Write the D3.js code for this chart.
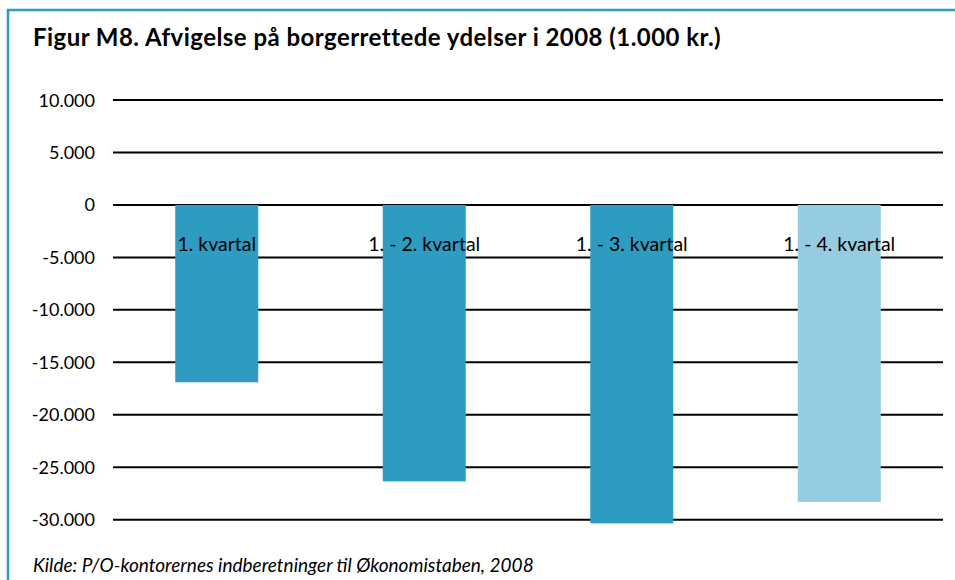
<!DOCTYPE html>
<html>
<head>
<meta charset="utf-8">
<script src="https://cdn.jsdelivr.net/npm/d3@7"></script>
<style>
body { margin: 0; background: #fff; }
text { font-family: Lato, "Noto Sans", sans-serif; fill: #000; }
</style>
</head>
<body>
<div id="chart"></div>
<script>
var kategorier = ['1. kvartal', '1. - 2. kvartal', '1. - 3. kvartal', '1. - 4. kvartal'];
var afvigelser = [-16900, -26350, -30350, -28300];
var farver = ['#2e9bc1', '#2e9bc1', '#2e9bc1', '#96cce1'];
var ticks = [10000, 5000, 0, -5000, -10000, -15000, -20000, -25000, -30000];

var W = 955, H = 580;
var svg = d3.select("#chart").append("svg").attr("width", W).attr("height", H);

// ramme (blaa linje top og venstre)
svg.append("line").attr("x1", 7).attr("x2", W).attr("y1", 10).attr("y2", 10)
    .attr("stroke", "#2e9bc1").attr("stroke-width", 2.5);
svg.append("line").attr("x1", 8).attr("x2", 8).attr("y1", 9).attr("y2", H)
    .attr("stroke", "#2e9bc1").attr("stroke-width", 2.5);

svg.append("text").attr("x", 33).attr("y", 46)
    .attr("font-size", 24).attr("font-weight", "bold").attr("letter-spacing", 0.45)
    .text("Figur M8. Afvigelse på borgerrettede ydelser i 2008 (1.000 kr.)");

var x = d3.scaleBand().domain(kategorier).range([113, 943])
    .paddingInner(0.6).paddingOuter(0.3);
var y = d3.scaleLinear().domain([-30000, 10000]).range([519.7, 100]);

var fmt = function(v) { return d3.format(",")(v).replace(/,/g, ".").replace("−", "-"); };

var grid = svg.append("g");
ticks.forEach(function(t) {
    grid.append("line").attr("x1", 113).attr("x2", 943)
        .attr("y1", y(t)).attr("y2", y(t))
        .attr("stroke", "#000").attr("stroke-width", 2);
    grid.append("text").attr("x", 95).attr("y", y(t) + 6.5)
        .attr("text-anchor", "end").attr("font-size", 18)
        .text(fmt(t));
});

svg.selectAll("rect.bar").data(kategorier).enter().append("rect")
    .attr("class", "bar")
    .attr("x", function(d) { return x(d); })
    .attr("width", x.bandwidth())
    .attr("y", y(0))
    .attr("height", function(d, i) { return y(afvigelser[i]) - y(0); })
    .attr("fill", function(d, i) { return farver[i]; });

svg.selectAll("text.kat").data(kategorier).enter().append("text")
    .attr("class", "kat")
    .attr("x", function(d) { return x(d) + x.bandwidth() / 2; })
    .attr("y", 251)
    .attr("text-anchor", "middle").attr("font-size", 19.5)
    .text(function(d) { return d; });

svg.append("text").attr("x", 33).attr("y", 572)
    .attr("font-size", 19).attr("font-style", "italic")
    .text("Kilde: P/O-kontorernes indberetninger til Økonomistaben, 2008");
</script>
</body>
</html>
